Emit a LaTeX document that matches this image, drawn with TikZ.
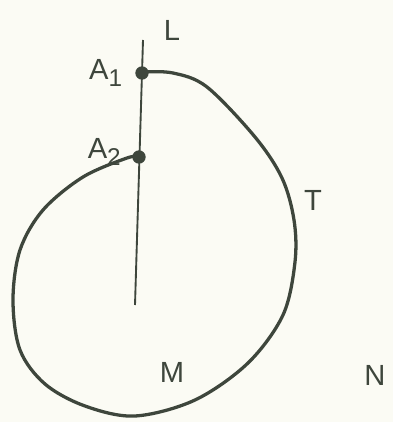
\documentclass[tikz,border=0pt]{standalone}
\usepackage{fontspec}
\setsansfont{Liberation Sans}
\usetikzlibrary{positioning}
\definecolor{pencil}{HTML}{3E463C}
\definecolor{paper}{HTML}{FBFBF4}

\begin{document}
\begin{tikzpicture}[x=0.03cm, y=-0.03cm, every node/.style={font=\sffamily\Huge, text=pencil},
    pt/.style={circle, fill=pencil, inner sep=0pt, minimum size=0.4cm}]
    \fill[paper] (0,0) rectangle (393,422);
    \useasboundingbox (0,0) rectangle (393,422);
    % line L with its two points
    \coordinate (ltop) at (143,40);
    \coordinate (lbot) at (135,305);
    \draw[pencil, line width=1.6pt] (ltop) -- (lbot);
    \node (a1) [pt] at (142,73) {};
    \node (a2) [pt] at (139,157) {};
    % the curve from A1 round to A2
    \draw[pencil, line width=2.8pt, line cap=round] plot[smooth, tension=0.55] coordinates {(142,72) (173,73) (207,87) (255,137) (282,178) (294,220) (295,262) (283,315) (248,363) (195,400) (135,416) (85,406) (45,384) (20,350) (13,300) (20,250) (43,210) (83,177) (127,158) (139,157)};
    % labels
    \node (lab-l)  at (172,30)  {L};
    \node (lab-a1) [left=0.25cm of a1] {A\textsubscript{1}};
    \node (lab-a2) [left=0.2cm of a2, yshift=0.15cm] {A\textsubscript{2}};
    \node (lab-t)  at (313,200) {T};
    \node (lab-m)  at (172,372) {M};
    \node (lab-n)  at (375,375) {N};
\end{tikzpicture}
\end{document}
